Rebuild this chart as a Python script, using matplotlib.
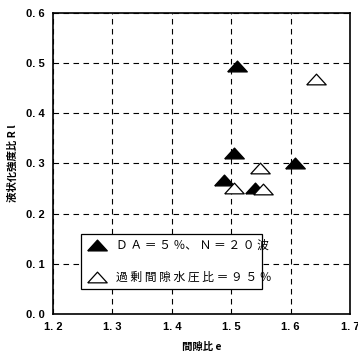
import matplotlib
matplotlib.use("Agg")
import matplotlib.pyplot as plt

plt.rcParams['font.family'] = ['Noto Sans CJK JP', 'DejaVu Sans']

# data
da_e = [1.51, 1.505, 1.607, 1.487, 1.54]
da_rl = [0.495, 0.32, 0.30, 0.268, 0.252]
pw_e = [1.642, 1.548, 1.505, 1.553]
pw_rl = [0.468, 0.29, 0.252, 0.250]

xticks = [1.2, 1.3, 1.4, 1.5, 1.6, 1.7]
yticks = [0.0, 0.1, 0.2, 0.3, 0.4, 0.5, 0.6]
xticklabels = ["1. 2", "1. 3", "1. 4", "1. 5", "1. 6", "1. 7"]
yticklabels = ["0. 0", "0. 1", "0. 2", "0. 3", "0. 4", "0. 5", "0. 6"]

# flat triangle marker, closed outline
tri = [(-1, -0.55), (1, -0.55), (0, 0.55), (-1, -0.55)]

fig = plt.figure(figsize=(3.58, 3.55), dpi=100)
ax = fig.add_axes([0.148, 0.1155, 0.83, 0.848])

ax.plot(da_e, da_rl, linestyle="none", marker=tri, markersize=14,
        color="black", label="Ｄ Ａ ＝ ５ ％、 Ｎ ＝ ２ ０ 波", zorder=3)
ax.plot(pw_e, pw_rl, linestyle="none", marker=tri, markersize=14,
        markerfacecolor="white", markeredgecolor="black", markeredgewidth=0.9,
        label="過 剰 間 隙 水 圧 比 ＝ ９ ５ ％", zorder=3)

ax.set_xlim(1.2, 1.7)
ax.set_ylim(0.0, 0.6)
ax.set_xticks(xticks)
ax.set_xticklabels(xticklabels, fontsize=8, fontweight="bold", family="Liberation Sans")
ax.set_yticks(yticks)
ax.set_yticklabels(yticklabels, fontsize=8, fontweight="bold", family="Liberation Sans")
ax.tick_params(length=0, pad=6)
ax.grid(True, color="black", linestyle=(0, (5, 4)), linewidth=0.8)
for s in ax.spines.values():
    s.set_linewidth(1.2)

ax.set_xlabel("間隙比 e", fontsize=7.5, fontweight="bold", labelpad=7)
ax.set_ylabel("液状化強度比 R l", fontsize=7.5, fontweight="bold", labelpad=6)

leg = ax.legend(loc="center", bbox_to_anchor=(0.093, 0.053, 0.61, 0.243),
                mode="expand", fontsize=8.5, frameon=True, fancybox=False,
                edgecolor="black", framealpha=1, labelspacing=1.6,
                handletextpad=0.6, borderaxespad=0)
leg.get_frame().set_linewidth(0.9)

fig.savefig("out.png", dpi=100)
